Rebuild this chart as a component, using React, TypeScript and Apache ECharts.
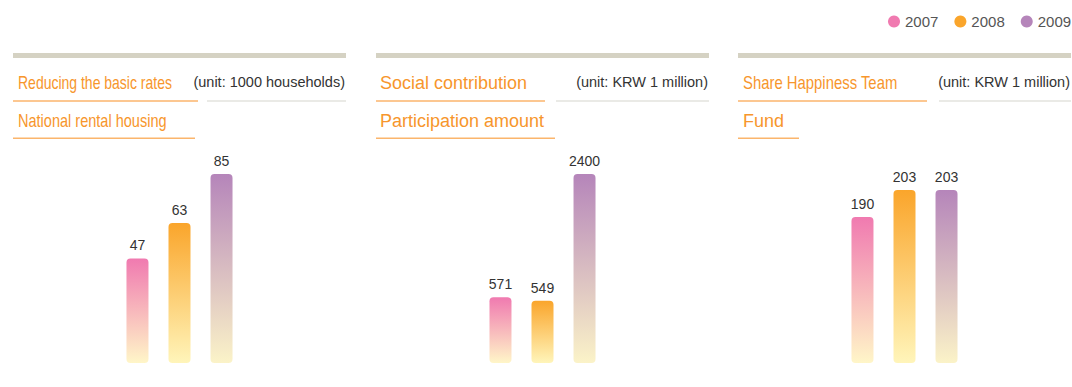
import React, { useEffect, useRef } from 'react';
import * as echarts from 'echarts';

const years = ['2007', '2008', '2009'];
const basicRates = [47, 63, 85];
const socialContribution = [571, 549, 2400];
const happinessFund = [190, 203, 203];

const panelTitles = [
  ['Reducing the basic rates', 'National rental housing'],
  ['Social contribution', 'Participation amount'],
  ['Share Happiness Team', 'Fund'],
];
const panelUnits = ['(unit: 1000 households)', '(unit: KRW 1 million)', '(unit: KRW 1 million)'];

const yearTop = ['#f07ab0', '#faa52b', '#b585ba'];
const yearBottom = ['#fff6c8', '#fff5ba', '#fbf3c8'];

const REGULAR = "'Liberation Sans', Arial, sans-serif";
const ORANGE = '#f7962c';

// [fontSize, horizontal squeeze]
const layout = [
  { left: 13, width: 333, titleX: 18, u1: 198, g1: 207, u2: 195, top: 174, titleFonts: [[17.5, 0.8], [17.5, 0.83]] },
  { left: 376, width: 333, titleX: 380, u1: 545, g1: 556, u2: 555, top: 174, titleFonts: [[18, 1], [18, 1]] },
  { left: 738, width: 333, titleX: 743, u1: 927, g1: 939, u2: 799, top: 190, titleFonts: [[17.5, 0.85], [18, 1]] },
];
const BASE_Y = 363;

export default function App() {
  const ref = useRef<HTMLDivElement>(null);
  useEffect(() => {
    if (!ref.current) return;
    const chart = echarts.init(ref.current, undefined, { renderer: 'svg' });
    const values = [basicRates, socialContribution, happinessFund];

    const grids = layout.map((l) => ({ left: l.left, top: l.top, width: l.width, height: BASE_Y - l.top }));
    const xAxes = layout.map((_, p) => ({ type: 'category', gridIndex: p, data: [panelTitles[p][0]], show: false }));
    const yAxes = [
      { type: 'value', gridIndex: 0, min: 0, max: 85, show: false },
      { type: 'log', gridIndex: 1, min: 266, max: 2400, startValue: 266, show: false },
      { type: 'value', gridIndex: 2, min: 120, max: 203, startValue: 120, show: false },
    ];

    const series: any[] = [];
    values.forEach((vals, p) => {
      vals.forEach((v, i) => {
        series.push({
          type: 'bar',
          name: years[i],
          xAxisIndex: p,
          yAxisIndex: p,
          data: [v],
          barWidth: 22,
          barGap: '91%',
          itemStyle: {
            borderRadius: 4,
            color: new echarts.graphic.LinearGradient(0, 0, 0, 1, [
              { offset: 0, color: yearTop[i] },
              { offset: 1, color: yearBottom[i] },
            ]),
          },
          label: { show: true, position: 'top', distance: 6, color: '#333', fontSize: 14, fontFamily: REGULAR },
        });
      });
    });

    const graphics: any[] = [];
    layout.forEach((l, p) => {
      const right = l.left + l.width;
      graphics.push({ type: 'rect', shape: { x: l.left, y: 53, width: l.width, height: 5 }, style: { fill: '#d5d2c3' }, silent: true });
      [83, 120.5].forEach((ty, k) => {
        graphics.push({
          type: 'text', x: l.titleX, y: ty, scaleX: l.titleFonts[k][1],
          style: { text: panelTitles[p][k], fill: ORANGE, font: `${l.titleFonts[k][0]}px ${REGULAR}`, verticalAlign: 'middle', align: 'left' },
        });
      });
      graphics.push({ type: 'line', shape: { x1: l.left, y1: 101, x2: l.u1, y2: 101 }, style: { stroke: '#fbb56c', lineWidth: 1.6 } });
      graphics.push({ type: 'line', shape: { x1: l.g1, y1: 101, x2: right, y2: 101 }, style: { stroke: '#e3e3de', lineWidth: 1.6 } });
      graphics.push({ type: 'line', shape: { x1: l.left, y1: 138.3, x2: l.u2, y2: 138.3 }, style: { stroke: '#fbb56c', lineWidth: 1.6 } });
      graphics.push({
        type: 'text', x: right - 1, y: 82,
        style: { text: panelUnits[p], fill: '#333', font: `14.5px ${REGULAR}`, verticalAlign: 'middle', align: 'right' },
      });
    });

    chart.setOption({
      animation: false,
      legend: {
        data: years.map((y, i) => ({ name: y, itemStyle: { color: yearTop[i] } })),
        left: 888,
        top: 14,
        width: 300,
        padding: 0,
        icon: 'circle',
        itemWidth: 12,
        itemHeight: 12,
        itemGap: 16,
        textStyle: { fontFamily: REGULAR, fontSize: 15, color: '#555' },
      },
      grid: grids,
      xAxis: xAxes,
      yAxis: yAxes,
      series,
      graphic: graphics,
    });
    return () => chart.dispose();
  }, []);
  return <div ref={ref} style={{ position: 'fixed', left: 0, top: 0, width: 1072, height: 387, background: '#fff' }} />;
}
